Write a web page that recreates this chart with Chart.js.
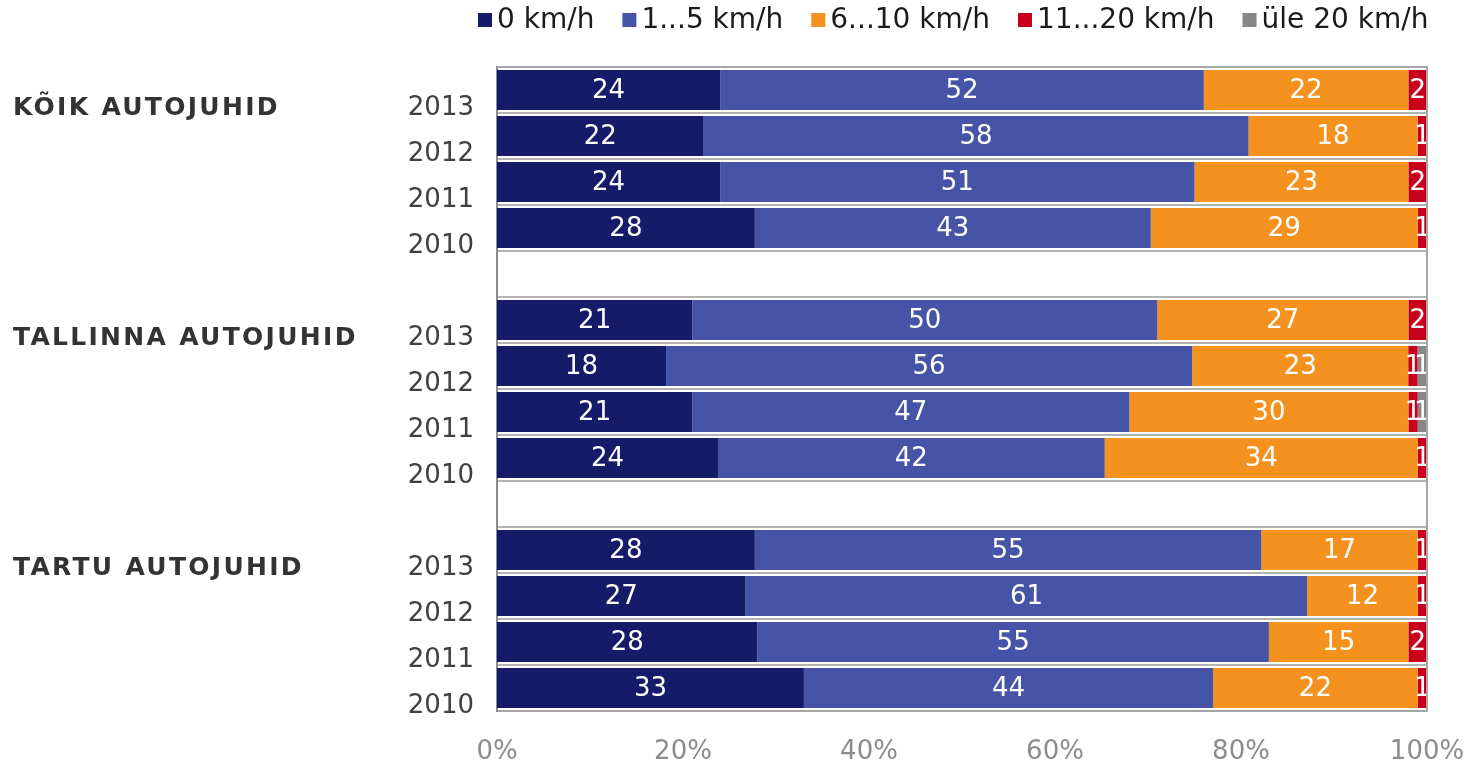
<!DOCTYPE html>
<html>
<head>
<meta charset="utf-8">
<script src="https://cdn.jsdelivr.net/npm/chart.js@4"></script>
<style>
  html, body { margin: 0; padding: 0; background: #fff; }
  #wrap { width: 1472px; height: 769px; }
</style>
</head>
<body>
<div id="wrap"><canvas id="speedChart" width="1472" height="769"></canvas></div>
<script>
// groups and years (top to bottom)
const groups = ['KÕIK AUTOJUHID', 'TALLINNA AUTOJUHID', 'TARTU AUTOJUHID'];
const years = ['2013', '2012', '2011', '2010'];

// legend labels and colours
const seriesNames = ['0 km/h', '1...5 km/h', '6...10 km/h', '11...20 km/h', 'üle 20 km/h'];
const seriesColors = ['#151b68', '#4654a7', '#f5921f', '#c8001d', '#878787'];

// values per series, 4 years per group: kõik, tallinn, tartu
const speed0 = [24, 22, 24, 28, 21, 18, 21, 24, 28, 27, 28, 33];
const speed1to5 = [52, 58, 51, 43, 50, 56, 47, 42, 55, 61, 55, 44];
const speed6to10 = [22, 18, 23, 29, 27, 23, 30, 34, 17, 12, 15, 22];
const speed11to20 = [2, 1, 2, 1, 2, 1, 1, 1, 1, 1, 2, 1];
const speedOver20 = [0, 0, 0, 0, 0, 1, 1, 0, 0, 0, 0, 0];

const xTicks = [0, 20, 40, 60, 80, 100];

const FONT = '"DejaVu Sans", Verdana, sans-serif';
const seriesRaw = [speed0, speed1to5, speed6to10, speed11to20, speedOver20];

// build rows with a blank row between groups
const rowLabels = [];
const rowIndex = []; // index into series arrays, or -1 for blank
const groupRows = [];
groups.forEach((g, gi) => {
  if (gi > 0) { rowLabels.push(''); rowIndex.push(-1); }
  groupRows.push(rowLabels.length);
  years.forEach((y, yi) => { rowLabels.push(y); rowIndex.push(gi * years.length + yi); });
});

// 100% stacked: normalise each row by its sum
const rowSums = speed0.map((_, i) => seriesRaw.reduce((s, arr) => s + arr[i], 0));

const datasets = seriesRaw.map((arr, si) => ({
  label: seriesNames[si],
  backgroundColor: seriesColors[si],
  borderWidth: 0,
  raw: rowIndex.map(r => r < 0 ? null : arr[r]),
  data: rowIndex.map(r => r < 0 ? null : arr[r] / rowSums[r] * 100),
  barPercentage: 0.87,
  categoryPercentage: 1
}));

// value labels in the middle of each segment
const valueLabels = {
  id: 'valueLabels',
  afterDatasetsDraw(chart) {
    const ctx = chart.ctx;
    ctx.save();
    ctx.font = '26px ' + FONT;
    ctx.fillStyle = '#ffffff';
    ctx.textAlign = 'center';
    ctx.textBaseline = 'middle';
    chart.data.datasets.forEach((ds, di) => {
      chart.getDatasetMeta(di).data.forEach((bar, i) => {
        const v = ds.raw[i];
        if (!v) return;
        const c = bar.getCenterPoint();
        ctx.fillText(String(v), c.x, c.y + 1);
      });
    });
    ctx.restore();
  }
};

// frame around the plot, group titles and legend
const decorations = {
  id: 'decorations',
  afterDraw(chart) {
    const ctx = chart.ctx;
    const a = chart.chartArea;
    ctx.save();
    ctx.strokeStyle = '#a6a6a6';
    ctx.lineWidth = 2;
    ctx.beginPath();
    ctx.moveTo(a.left, a.top);
    ctx.lineTo(a.right, a.top);
    ctx.lineTo(a.right, a.bottom);
    ctx.stroke();

    // group titles
    const yScale = chart.scales.y;
    ctx.font = 'bold 25px ' + FONT;
    ctx.letterSpacing = '2.3px';
    ctx.fillStyle = '#333333';
    ctx.textAlign = 'left';
    ctx.textBaseline = 'middle';
    groupRows.forEach((r, gi) => {
      ctx.fillText(groups[gi], 13, yScale.getPixelForValue(r) + 18);
    });
    ctx.letterSpacing = '0px';

    // legend
    ctx.font = '28px ' + FONT;
    let x = 478;
    const y = 20;
    seriesNames.forEach((name, i) => {
      ctx.fillStyle = seriesColors[i];
      ctx.fillRect(x, y - 7, 14, 14);
      ctx.fillStyle = '#1a1a1a';
      ctx.fillText(name, x + 19, y + 1);
      x += 19 + ctx.measureText(name).width + 28;
    });
    ctx.restore();
  }
};

new Chart(document.getElementById('speedChart'), {
  type: 'bar',
  data: { labels: rowLabels, datasets },
  plugins: [valueLabels, decorations],
  options: {
    responsive: false,
    animation: false,
    indexAxis: 'y',
    layout: { padding: { top: 67, right: 45, left: 0, bottom: 0 } },
    plugins: {
      legend: { display: false },
      tooltip: { enabled: false }
    },
    scales: {
      x: {
        stacked: true,
        min: 0,
        max: 100,
        afterBuildTicks: (axis) => { axis.ticks = xTicks.map(v => ({ value: v })); },
        afterFit: (axis) => { axis.height = 58; axis.paddingLeft = 0; axis.paddingRight = 0; },
        grid: { display: false, drawTicks: false },
        border: { display: true, color: '#a6a6a6', width: 2 },
        ticks: {
          padding: 26,
          color: '#8c8c8c',
          font: { family: FONT, size: 26 },
          callback: (v) => v + '%'
        }
      },
      y: {
        stacked: true,
        afterFit: (axis) => { axis.width = 497; },
        grid: { offset: true, color: '#b3b3b3', lineWidth: 2, drawTicks: false },
        border: { display: true, color: '#8c8c8c', width: 2 },
        ticks: {
          padding: 23,
          labelOffset: 18,
          color: '#404040',
          font: { family: FONT, size: 26 },
          autoSkip: false
        }
      }
    }
  }
});
</script>
</body>
</html>
